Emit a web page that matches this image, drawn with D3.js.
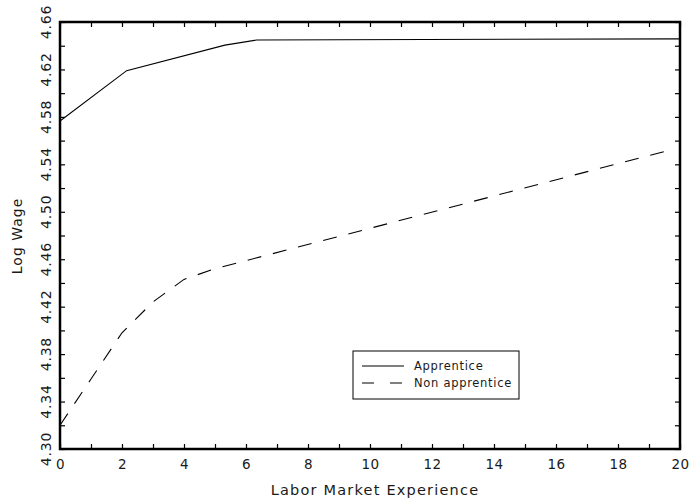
<!DOCTYPE html>
<html>
<head>
<meta charset="utf-8">
<script src="https://cdn.jsdelivr.net/npm/d3@7/dist/d3.min.js"></script>
<style>
  body { margin: 0; background: #fff; }
  svg text { font-family: "DejaVu Sans", sans-serif; fill: #1a1a1a; }
</style>
</head>
<body>
<svg id="chart" width="689" height="501"></svg>
<script>
// Data
var apprenticeExp = [0, 2.15, 5.32, 6.34, 20];
var apprenticeWage = [4.5765, 4.619, 4.6405, 4.6448, 4.6458];

var nonApprenticeExp = [0, 1, 2, 3, 4, 5, 19.6];
var nonApprenticeWage = [4.320, 4.359, 4.398, 4.424, 4.443, 4.452, 4.5515];

var xTicks = d3.range(0, 21, 1);
var yTicks = d3.range(0, 19).map(i => +(4.30 + i * 0.02).toFixed(2));
var seriesNames = ["Apprentice", "Non apprentice"];

var svg = d3.select("#chart");
var margin = { left: 60, right: 9, top: 22, bottom: 52 };
var width = 689, height = 501;

var x = d3.scaleLinear().domain([0, 20]).range([margin.left, width - margin.right]);
var y = d3.scaleLinear().domain([4.30, 4.66]).range([height - margin.bottom, margin.top]);

// Axes with inward ticks on all four sides
var tickLen = 5;
var bottomAxis = svg.append("g")
    .attr("transform", "translate(0," + y(4.30) + ")")
    .call(d3.axisBottom(x).tickValues(xTicks).tickSizeInner(-tickLen).tickSizeOuter(0)
        .tickFormat(d => d % 2 === 0 ? d : ""));
bottomAxis.selectAll("text")
    .attr("y", 10)
    .attr("font-size", "13.5px")
    .attr("letter-spacing", "0.5px");

svg.append("g")
    .attr("transform", "translate(0," + y(4.66) + ")")
    .call(d3.axisTop(x).tickValues(xTicks).tickSizeInner(-tickLen).tickSizeOuter(0).tickFormat(""));

svg.append("g")
    .attr("transform", "translate(" + x(0) + ",0)")
    .call(d3.axisLeft(y).tickValues(yTicks).tickSizeInner(-tickLen).tickSizeOuter(0).tickFormat(""));

svg.append("g")
    .attr("transform", "translate(" + x(20) + ",0)")
    .call(d3.axisRight(y).tickValues(yTicks).tickSizeInner(-tickLen).tickSizeOuter(0).tickFormat(""));

svg.selectAll(".tick line").attr("stroke", "#000").attr("stroke-width", 1.2);
svg.selectAll(".domain").remove();

// Rotated y tick labels, every second tick
svg.append("g").selectAll("text")
    .data(yTicks.filter((d, i) => i % 2 === 0))
    .enter()
    .append("text")
    .attr("transform", d => "translate(51," + y(d) + ") rotate(-90)")
    .attr("text-anchor", "middle")
    .attr("font-size", "14px")
    .attr("letter-spacing", "0.8px")
    .text(d => d.toFixed(2));

// Frame
svg.append("rect")
    .attr("x", x(0))
    .attr("y", y(4.66))
    .attr("width", x(20) - x(0))
    .attr("height", y(4.30) - y(4.66))
    .attr("fill", "none")
    .attr("stroke", "#000")
    .attr("stroke-width", 2.5);

// Lines
var line = d3.line().x(d => x(d[0])).y(d => y(d[1]));

svg.append("path")
    .datum(d3.zip(apprenticeExp, apprenticeWage))
    .attr("d", line)
    .attr("fill", "none")
    .attr("stroke", "#000")
    .attr("stroke-width", 1.1);

svg.append("path")
    .datum(d3.zip(nonApprenticeExp, nonApprenticeWage))
    .attr("d", line)
    .attr("fill", "none")
    .attr("stroke", "#000")
    .attr("stroke-width", 1.1)
    .attr("stroke-dasharray", "14,12");

// Axis titles
svg.append("text")
    .attr("x", (x(0) + x(20)) / 2 + 5)
    .attr("y", 495)
    .attr("text-anchor", "middle")
    .attr("font-size", "14.5px")
    .attr("letter-spacing", "1.2px")
    .text("Labor Market Experience");

svg.append("text")
    .attr("transform", "translate(22," + 236 + ") rotate(-90)")
    .attr("text-anchor", "middle")
    .attr("font-size", "14px")
    .attr("letter-spacing", "1px")
    .text("Log Wage");

// Legend
var legend = svg.append("g").attr("transform", "translate(353,351)");
legend.append("rect")
    .attr("width", 166)
    .attr("height", 48)
    .attr("fill", "#fff")
    .attr("stroke", "#000")
    .attr("stroke-width", 1);

var dashes = [null, "12,16"];
seriesNames.forEach(function (name, i) {
    var ly = 15 + i * 17;
    legend.append("line")
        .attr("x1", 9).attr("x2", 51)
        .attr("y1", ly).attr("y2", ly)
        .attr("stroke", "#000")
        .attr("stroke-width", 1.1)
        .attr("stroke-dasharray", dashes[i]);
    legend.append("text")
        .attr("x", 61)
        .attr("y", ly + 4)
        .attr("font-size", "11.5px")
        .attr("letter-spacing", "0.7px")
        .text(name);
});
</script>
</body>
</html>
